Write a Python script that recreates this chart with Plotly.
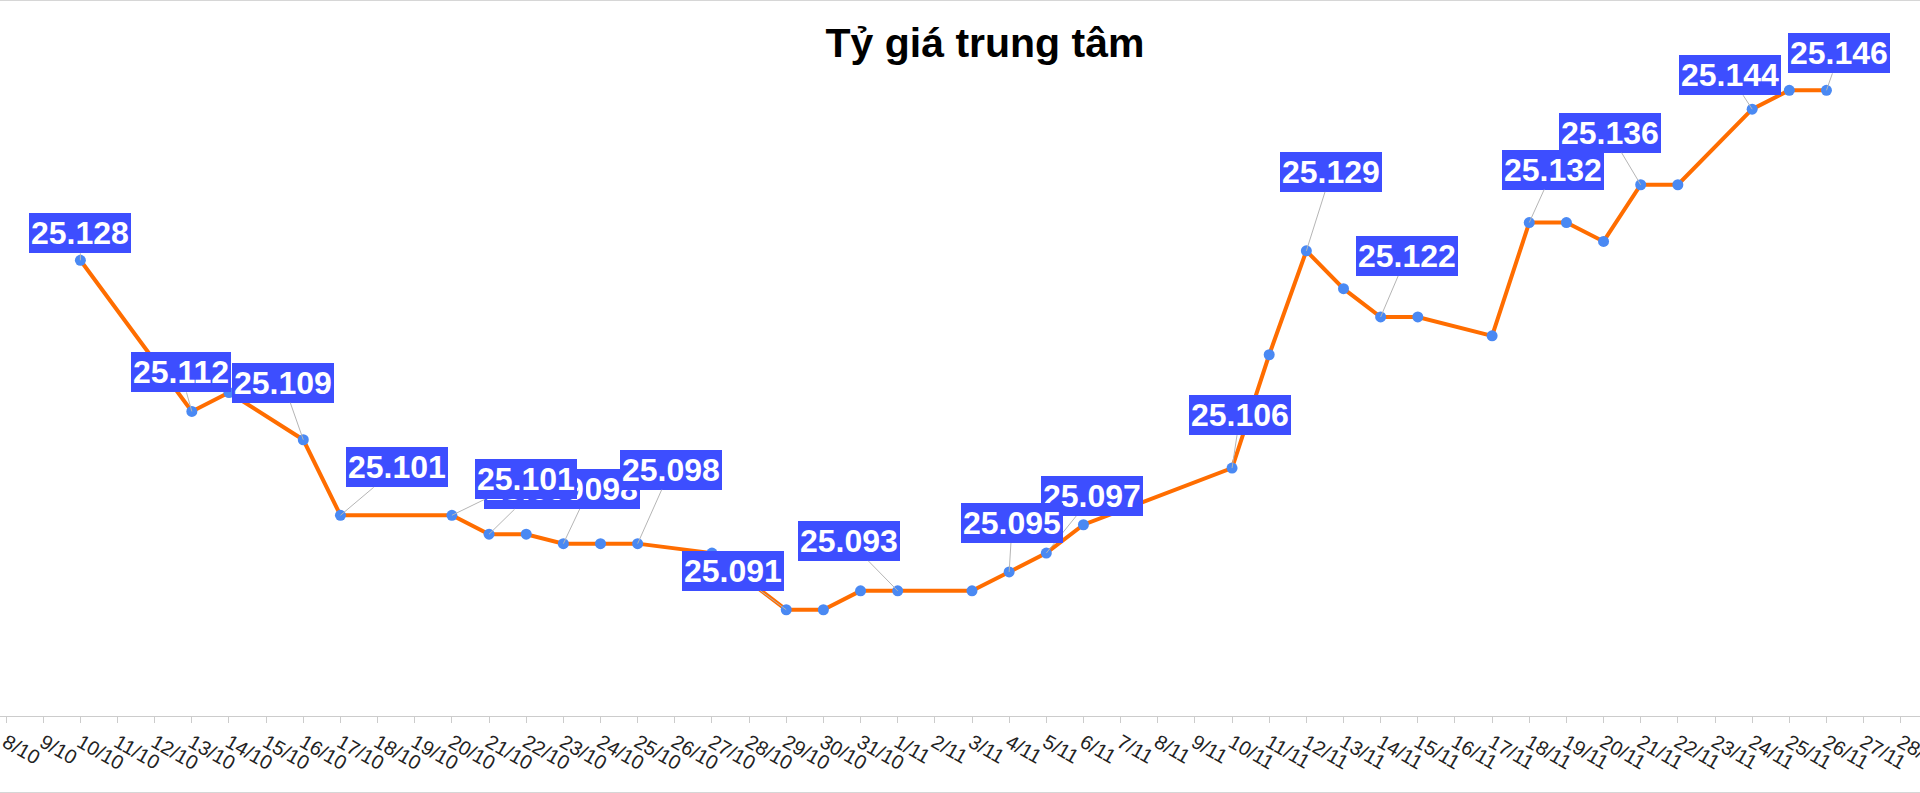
import plotly.graph_objects as go

# ---------------- data ----------------
all_dates = [
    "8/10", "9/10", "10/10", "11/10", "12/10", "13/10", "14/10", "15/10", "16/10", "17/10",
    "18/10", "19/10", "20/10", "21/10", "22/10", "23/10", "24/10", "25/10", "26/10", "27/10",
    "28/10", "29/10", "30/10", "31/10", "1/11", "2/11", "3/11", "4/11", "5/11", "6/11",
    "7/11", "8/11", "9/11", "10/11", "11/11", "12/11", "13/11", "14/11", "15/11", "16/11",
    "17/11", "18/11", "19/11", "20/11", "21/11", "22/11", "23/11", "24/11", "25/11", "26/11",
    "27/11", "28/11",
]

dates = [
    "10/10", "13/10", "14/10", "16/10", "17/10", "20/10", "21/10", "22/10", "23/10", "24/10",
    "25/10", "27/10", "29/10", "30/10", "31/10", "1/11", "3/11", "4/11", "5/11", "6/11",
    "10/11", "11/11", "12/11", "13/11", "14/11", "15/11", "17/11", "18/11", "19/11", "20/11",
    "21/11", "22/11", "24/11", "25/11", "26/11",
]

values = [
    25.128, 25.112, 25.114, 25.109, 25.101, 25.101, 25.099, 25.099, 25.098, 25.098,
    25.098, 25.097, 25.091, 25.091, 25.093, 25.093, 25.093, 25.095, 25.097, 25.100,
    25.106, 25.118, 25.129, 25.125, 25.122, 25.122, 25.120, 25.132, 25.132, 25.130,
    25.136, 25.136, 25.144, 25.146, 25.146,
]

# labelled points, in drawing order (later = on top)
label_dates = [
    "10/10", "13/10", "16/10", "17/10", "23/10", "21/10", "20/10", "25/10", "29/10", "1/11",
    "5/11", "4/11", "10/11", "12/11", "14/11", "18/11", "21/11", "24/11", "26/11",
]

# ---------------- styling ----------------
label_offsets = {  # label box centre relative to its point, in px
    "10/10": (0, -27), "13/10": (-11, -39), "16/10": (-20, -57), "17/10": (57, -48),
    "20/10": (74, -36), "21/10": (46, -45), "23/10": (26, -55), "25/10": (33, -74),
    "29/10": (-53, -39), "1/11": (-49, -50), "4/11": (3, -49), "5/11": (46, -57),
    "10/11": (8, -53), "12/11": (25, -79), "14/11": (26, -61), "18/11": (24, -53),
    "21/11": (-31, -52), "24/11": (-22, -34), "26/11": (13, -37),
}

FONT = "Arial, 'Liberation Sans', sans-serif"
W, H = 1920, 793
T, B = 60, 77
PLOT_H = H - T - B

fig = go.Figure()
fig.add_trace(go.Scatter(
    x=dates, y=values, mode="lines+markers",
    line=dict(color="#ff6d00", width=4),
    marker=dict(color="#4a89f3", size=11),
    hoverinfo="x+y",
))

annotations = []
for d in label_dates:
    v = values[dates.index(d)]
    dx, dy = label_offsets[d]
    annotations.append(dict(
        x=d, y=v, xref="x", yref="y",
        text=f"<b>{v:.3f}</b>",
        showarrow=True, arrowhead=0, arrowwidth=1, arrowcolor="#b5b5b5",
        ax=dx, ay=dy,
        font=dict(family=FONT, size=32, color="white"),
        bgcolor="#3d4eff", borderpad=2, borderwidth=0,
    ))

fig.update_layout(
    width=W, height=H, autosize=False,
    margin=dict(l=0, r=0, t=T, b=B, pad=0),
    paper_bgcolor="white", plot_bgcolor="white",
    showlegend=False,
    title=dict(
        text="<b>Tỷ giá trung tâm</b>",
        x=985 / W, xanchor="center", xref="container",
        y=1 - 43 / H, yanchor="middle", yref="container",
        font=dict(family=FONT, size=41, color="black"),
        automargin=False,
    ),
    xaxis=dict(
        type="category", categoryorder="array", categoryarray=all_dates,
        tickmode="array", tickvals=all_dates, ticktext=all_dates,
        range=[-0.164, 51.518], automargin=False,
        showline=True, linecolor="#cccccc", linewidth=1,
        ticks="outside", ticklen=6, tickcolor="#cccccc", tickwidth=1,
        tickangle=30, tickfont=dict(family=FONT, size=20, color="#222222"),
        showgrid=False, zeroline=False, fixedrange=True,
    ),
    yaxis=dict(range=[25.07975, 25.14921], visible=False, fixedrange=True,
               automargin=False),
    annotations=annotations,
    shapes=[
        dict(type="line", xref="paper", yref="paper", x0=0, x1=1,
             y0=1 + (T - 0.5) / PLOT_H, y1=1 + (T - 0.5) / PLOT_H,
             line=dict(color="#d6d6d6", width=1)),
        dict(type="line", xref="paper", yref="paper", x0=0, x1=1,
             y0=-(B - 0.5) / PLOT_H, y1=-(B - 0.5) / PLOT_H,
             line=dict(color="#d6d6d6", width=1)),
    ],
)

fig.write_html(
    "out.html",
    config={"displayModeBar": False},
    post_script="document.body.style.margin='0';document.body.style.overflow='hidden';",
)
